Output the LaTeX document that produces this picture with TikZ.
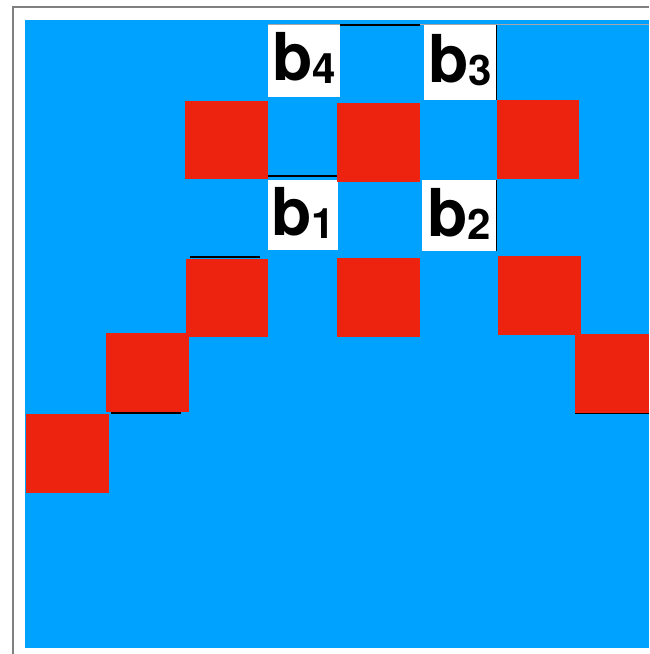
\documentclass[tikz,border=0pt]{standalone}
\usepackage{fontspec}
\setmainfont{TeX Gyre Heros}
\definecolor{fieldblue}{RGB}{0,162,255}
\definecolor{cellred}{RGB}{237,34,15}
\newcommand{\bsub}[1]{{\fontsize{66}{66}\selectfont\bfseries b}{\fontsize{42}{42}\selectfont\bfseries\raisebox{-3pt}{#1}}}
\begin{document}
\begin{tikzpicture}[
  x=1pt, y=-1pt,
  redcell/.style={rectangle, draw=none, fill=cellred, inner sep=0pt,
    minimum width=83pt, minimum height=79pt, anchor=north west},
  labcell/.style={rectangle, draw=none, fill=white, inner sep=0pt,
    minimum width=72pt, minimum height=72pt, anchor=north west},
  edge/.style={black, line width=1.6pt},
  frame/.style={gray, line width=1.4pt}
]
\useasboundingbox (0,0) rectangle (649,654);

% Outer frame and blue field
\draw[frame] (13,654) -- (13,7) -- (649,7);
\fill[fieldblue] (25,20) rectangle (649,648);
\draw[gray!70, line width=0.8pt] (268,24) -- (649,24);

% Label cells
\node[labcell] (b4) at (268,25) {};
\node[labcell, minimum height=75pt] (b3) at (424,25) {};
\node[labcell, minimum width=70pt, minimum height=70pt] (b1) at (268,180) {};
\node[labcell, minimum width=74pt, minimum height=71pt] (b2) at (422,180) {};
\node at ([yshift=3pt]b4.center) {\bsub{4}};
\node at ([yshift=3pt]b3.center) {\bsub{3}};
\node at ([yshift=2pt]b1.center) {\bsub{1}};
\node at ([yshift=2pt]b2.center) {\bsub{2}};

% Red cells
\node[redcell] (r1) at (26,414) {};
\node[redcell] (r2) at (106,333) {};
\node[redcell, minimum width=82pt, minimum height=78pt] (r3) at (186,259) {};
\node[redcell, minimum height=78pt] (r4) at (185,101) {};
\node[redcell] (r5) at (337,103) {};
\node[redcell, minimum width=82pt] (r6) at (497,100) {};
\node[redcell] (r7) at (337,258) {};
\node[redcell] (r8) at (498,256) {};
\node[redcell, minimum width=74pt] (r9) at (575,334) {};

% Stray cell edges
\draw[edge] (340,25) -- (420,25);
\draw[edge] (268,176) -- (337,176);
\draw[edge] (190,257) -- (260,257);
\draw[edge] (111,413) -- (181,413);
\draw[edge] (r9.south west) -- (r9.south east);
\draw[black, line width=0.9pt] (b3.north east) -- (b3.south east);
\draw[black, line width=0.9pt] (b2.north east) -- (b2.south east);

\end{tikzpicture}
\end{document}
